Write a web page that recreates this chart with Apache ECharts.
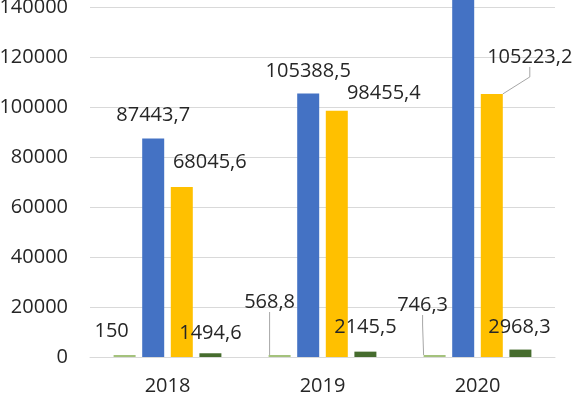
<!DOCTYPE html>
<html>
<head>
<meta charset="utf-8">
<script src="https://cdn.jsdelivr.net/npm/echarts@6/dist/echarts.min.js"></script>
<style>
  html, body { margin: 0; padding: 0; background: #fff; overflow: hidden; }
  /* the reference is cropped at the top, so the chart starts above the window */
  #chart { position: absolute; left: 0; top: -43px; width: 574px; height: 436px; }
</style>
</head>
<body>
<div id="chart"></div>
<script>
// data
var years = ['2018', '2019', '2020'];
var lightGreenValues = [150, 568.8, 746.3];
var blueValues = [87443.7, 105388.5, 152000]; // 2020 runs off the top, estimated
var goldValues = [68045.6, 98455.4, 105223.2];
var darkGreenValues = [1494.6, 2145.5, 2968.3];
var labelTexts = [
  ['150', '568,8', '746,3'],
  ['87443,7', '105388,5', ''],
  ['68045,6', '98455,4', '105223,2'],
  ['1494,6', '2145,5', '2968,3']
];
// which labels carry a leader line (as in the excel original)
var leaderLines = [
  [false, true, true],
  [false, false, false],
  [false, false, true],
  [false, false, false]
];
// how far each label was dragged from its default place
var labelShift = [
  [[-13, -14], [-10, -43], [-12, -40]],
  [[0, -13], [0, -12], [0, 0]],
  [[28, -15], [47, -8], [38, -27]],
  [[0, -10], [0, -14], [-1, -12]]
];

var chart = echarts.init(document.getElementById('chart'));

var textColor = '#262626';
var fontFamily = '"Open Sans", sans-serif';

var makeSeries = function (idx, values, color) {
  return {
    type: 'bar',
    barWidth: 22,
    barGap: '30%',
    barMinHeight: 2,
    itemStyle: { color: color },
    label: {
      show: true,
      position: 'top',
      distance: 0,
      color: textColor,
      fontFamily: fontFamily,
      fontSize: 20,
      lineHeight: 20,
      formatter: function (p) { return labelTexts[idx][p.dataIndex]; }
    },
    labelLine: {
      show: false,
      length2: 10,
      lineStyle: { color: '#a6a6a6', width: 1 }
    },
    labelLayout: function (p) {
      var s = labelShift[idx][p.dataIndex];
      return { dx: s[0], dy: s[1] };
    },
    data: values.map(function (v, i) {
      return leaderLines[idx][i] ? { value: v, labelLine: { show: true } } : v;
    })
  };
};

var option = {
  animation: false,
  grid: { left: 90, right: 19, top: 0, bottom: 36, outerBoundsMode: 'none' },
  xAxis: {
    type: 'category',
    data: years,
    axisLine: { lineStyle: { color: '#d9d9d9' } },
    axisTick: { show: false },
    axisLabel: { color: textColor, fontFamily: fontFamily, fontSize: 20, margin: 19 }
  },
  yAxis: {
    type: 'value',
    min: 0,
    max: 160000,
    interval: 20000,
    axisLine: { show: false },
    axisTick: { show: false },
    splitLine: { lineStyle: { color: '#d9d9d9' } },
    axisLabel: {
      color: textColor, fontFamily: fontFamily, fontSize: 20, margin: 22,
      formatter: function (v) { return String(v); }
    }
  },
  series: [
    makeSeries(0, lightGreenValues, '#a4c27c'),
    makeSeries(1, blueValues, '#4472c4'),
    makeSeries(2, goldValues, '#ffc000'),
    makeSeries(3, darkGreenValues, '#466c2e')
  ]
};

chart.setOption(option);
</script>
</body>
</html>
